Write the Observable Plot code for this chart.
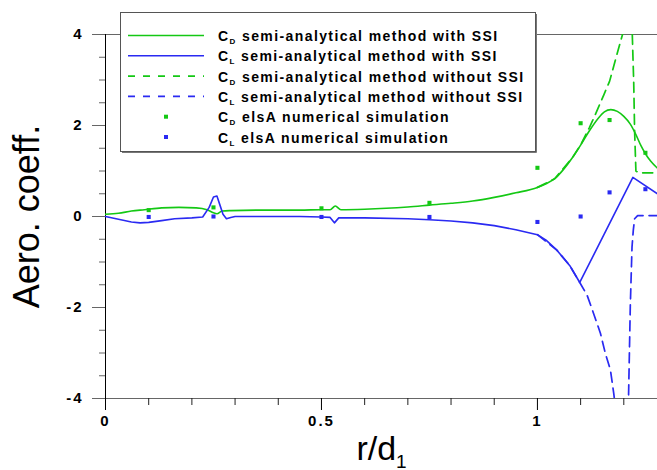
<!DOCTYPE html>
<html><head><meta charset="utf-8">
<script src="https://cdn.jsdelivr.net/npm/d3@7"></script>
<script src="https://cdn.jsdelivr.net/npm/@observablehq/plot@0.6"></script>
<style>
body{margin:0;background:#fff;overflow:hidden;font-family:"Liberation Sans",Arial,sans-serif;}
#wrap{position:relative;width:657px;height:470px;}
#legend{position:absolute;left:120px;top:12px;}
g[aria-label="y-axis tick label"] text, g[aria-label="x-axis tick label"] text{letter-spacing:2px;font-weight:bold;}
</style></head><body><div id="wrap"></div>
<script>
// ---- data ----
const cdWithX = [0,0.03,0.06,0.09,0.13,0.17,0.21,0.235,0.25,0.258,0.27,0.29,0.35,0.45,0.5,0.52,0.532,0.545,0.6,0.65,0.7,0.75,0.8,0.85,0.9,0.95,1.0,1.02,1.04,1.06,1.08,1.1,1.12,1.14,1.155,1.17,1.185,1.2,1.215,1.228,1.24,1.25,1.262,1.278];
const cdWithY = [0.05,0.07,0.12,0.15,0.19,0.2,0.19,0.15,0.08,0.06,0.12,0.13,0.14,0.14,0.15,0.15,0.23,0.15,0.16,0.18,0.21,0.25,0.29,0.34,0.42,0.52,0.64,0.72,0.83,1.03,1.28,1.57,1.88,2.15,2.3,2.35,2.31,2.2,2.03,1.8,1.55,1.38,1.22,1.06];

const clWithX = [0,0.03,0.06,0.08,0.1,0.13,0.16,0.2,0.225,0.24,0.25,0.258,0.265,0.272,0.28,0.29,0.3,0.45,0.5,0.52,0.53,0.54,0.6,0.7,0.75,0.8,0.85,0.9,0.95,1.0,1.02,1.045,1.075,1.098,1.221,1.278];
const clWithY = [0,-0.06,-0.12,-0.14,-0.13,-0.09,-0.05,-0.03,-0.01,0.2,0.43,0.45,0.25,0.05,-0.05,-0.02,0,0,-0.01,-0.02,-0.14,-0.03,-0.03,-0.05,-0.07,-0.1,-0.14,-0.2,-0.29,-0.4,-0.52,-0.74,-1.08,-1.45,0.86,0.5];

const cdWithoutX = [1.0,1.04,1.08,1.1,1.12,1.134,1.154,1.167,1.184,1.2,1.213,1.219,1.223,1.225,1.228,1.235,1.278];
const cdWithoutY = [0.64,0.83,1.28,1.57,1.95,2.24,2.68,2.97,3.56,4.1,5.0,4.2,2.92,1.88,1.0,0.96,0.96];

const clWithoutX = [1.0,1.045,1.075,1.098,1.115,1.13,1.146,1.157,1.169,1.177,1.19,1.205,1.211,1.215,1.219,1.222,1.225,1.232,1.278];
const clWithoutY = [-0.4,-0.74,-1.08,-1.45,-1.73,-2.13,-2.57,-3.0,-3.37,-3.91,-5.0,-5.0,-3.95,-1.98,-0.67,-0.3,-0.05,0.02,0.02];

const elsaX = [0.1,0.25,0.5,0.75,1.0,1.1,1.167,1.25];
const cdElsaY = [0.14,0.2,0.18,0.3,1.07,2.05,2.12,1.4];
const clElsaY = [-0.01,0.0,-0.01,-0.01,-0.12,0.0,0.53,0.6];

const xMajor = [0,0.5,1];
const xTickLabels = ["0","0.5","1"];
const xMinor = [0.1,0.2,0.3,0.4,0.6,0.7,0.8,0.9,1.1,1.2];
const yMajor = [-4,-2,0,2,4];
const yTickLabels = ["-4","-2","0","2","4"];
const yMinor = [-3.5,-3,-2.5,-1.5,-1,-0.5,0.5,1,1.5,2.5,3,3.5];

const xTitleMain = "r/d", xTitleSub = "1";
const yTitle = "Aero. coeff.";

const legendMain = ["C","C","C","C","C","C"];
const legendSub = ["D","L","D","L","D","L"];
const legendText = [" semi-analytical method with SSI"," semi-analytical method with SSI"," semi-analytical method without SSI"," semi-analytical method without SSI"," elsA numerical simulation"," elsA numerical simulation"];
const legendKind = ["solid","solid","dash","dash","dot","dot"];

const green = "#14c814", blue = "#2a2af2";
const legendColor = [green, blue, green, blue, green, blue];

// ---- chart ----
const rows = (xs, ys) => xs.map((x, i) => ({x, y: ys[i]}));

const svg = Plot.plot({
  width: 657, height: 470,
  marginLeft: 105, marginRight: 0, marginTop: 34, marginBottom: 72,
  x: {domain: [0, 1.278], label: null},
  y: {domain: [-4, 4], label: null},
  style: {fontFamily: "'Liberation Sans', Arial, sans-serif", background: "#fff", color: "#000"},
  marks: [
    Plot.ruleY([4], {stroke: "#666"}),
    Plot.ruleY([-4], {stroke: "#666"}),
    Plot.axisY(yMinor, {tickSize: 6, tickFormat: () => "", stroke: "#666", label: null}),
    Plot.axisY(yMajor, {tickSize: 13, tickPadding: 9, stroke: "#666", fill: "#000", fontSize: 15, label: null,
      tickFormat: d => yTickLabels[yMajor.indexOf(d)]}),
    Plot.axisX(xMinor, {tickSize: 7, tickFormat: () => "", stroke: "#222", label: null}),
    Plot.axisX(xMajor, {tickSize: 12, tickPadding: 5, stroke: "#000", fill: "#000", fontSize: 15, label: null,
      tickFormat: d => xTickLabels[xMajor.indexOf(d)]}),
    Plot.ruleX([0], {stroke: "#000"}),
    Plot.line(rows(cdWithoutX, cdWithoutY), {x: "x", y: "y", stroke: green, strokeWidth: 1.7, strokeDasharray: "10,6", clip: true}),
    Plot.line(rows(clWithoutX, clWithoutY), {x: "x", y: "y", stroke: blue, strokeWidth: 1.7, strokeDasharray: "10,6", clip: true}),
    Plot.line(rows(cdWithX, cdWithY), {x: "x", y: "y", stroke: green, strokeWidth: 1.6, curve: "monotone-x", clip: true}),
    Plot.line(rows(clWithX, clWithY), {x: "x", y: "y", stroke: blue, strokeWidth: 1.6, clip: true}),
    Plot.dot(rows(elsaX, cdElsaY), {x: "x", y: "y", symbol: "square", r: 2.3, fill: green, stroke: "none"}),
    Plot.dot(rows(elsaX, clElsaY), {x: "x", y: "y", symbol: "square", r: 2.3, fill: blue, stroke: "none"}),
    Plot.text([xTitleMain + xTitleSub], {frameAnchor: "bottom", dy: 61, fontSize: 34, fill: "#000"}),
    Plot.text([yTitle], {frameAnchor: "left", textAnchor: "middle", rotate: -90, dx: -78, fontSize: 36, fill: "#000"})
  ]
});

// subscript in x title
d3.select(svg).selectAll("text").filter(function() { return this.textContent === xTitleMain + xTitleSub; })
  .each(function() {
    const t = d3.select(this);
    t.text(xTitleMain);
    t.append("tspan").attr("dy", 8).attr("font-size", 19).text(xTitleSub);
  });

const wrap = document.getElementById("wrap");
wrap.appendChild(svg);

// ---- legend ----
const lw = 418, lh = 142;
const leg = d3.create("svg").attr("id", "legend").attr("width", lw).attr("height", lh)
  .style("font-family", "'Liberation Sans', Arial, sans-serif");
leg.append("rect").attr("x", 0.5).attr("y", 0.5).attr("width", lw - 3).attr("height", lh - 3)
  .attr("fill", "#fff").attr("stroke", "#555");
leg.append("path").attr("d", `M${lw - 1.5},2V${lh - 1.5}H2`).attr("fill", "none").attr("stroke", "#777");
legendText.forEach((txt, i) => {
  const cy = 23.5 + i * 20.3;
  const c = legendColor[i];
  if (legendKind[i] === "solid") {
    leg.append("line").attr("x1", 8).attr("x2", 84).attr("y1", cy).attr("y2", cy).attr("stroke", c).attr("stroke-width", 1.6);
  } else if (legendKind[i] === "dash") {
    leg.append("line").attr("x1", 8).attr("x2", 84).attr("y1", cy).attr("y2", cy).attr("stroke", c).attr("stroke-width", 1.6).attr("stroke-dasharray", "7,8");
  } else {
    leg.append("rect").attr("x", 44).attr("y", cy - 2).attr("width", 4).attr("height", 4).attr("fill", c);
  }
  const t = leg.append("text").attr("x", 98).attr("y", cy + 5.5).attr("font-size", 14).attr("font-weight", "bold")
    .style("letter-spacing", "1.4px").attr("fill", "#000");
  t.append("tspan").text(legendMain[i]);
  t.append("tspan").attr("dy", 3).attr("font-size", 8).text(legendSub[i]);
  t.append("tspan").attr("dy", -3).text(txt);
});
wrap.appendChild(leg.node());
</script>
</body></html>
